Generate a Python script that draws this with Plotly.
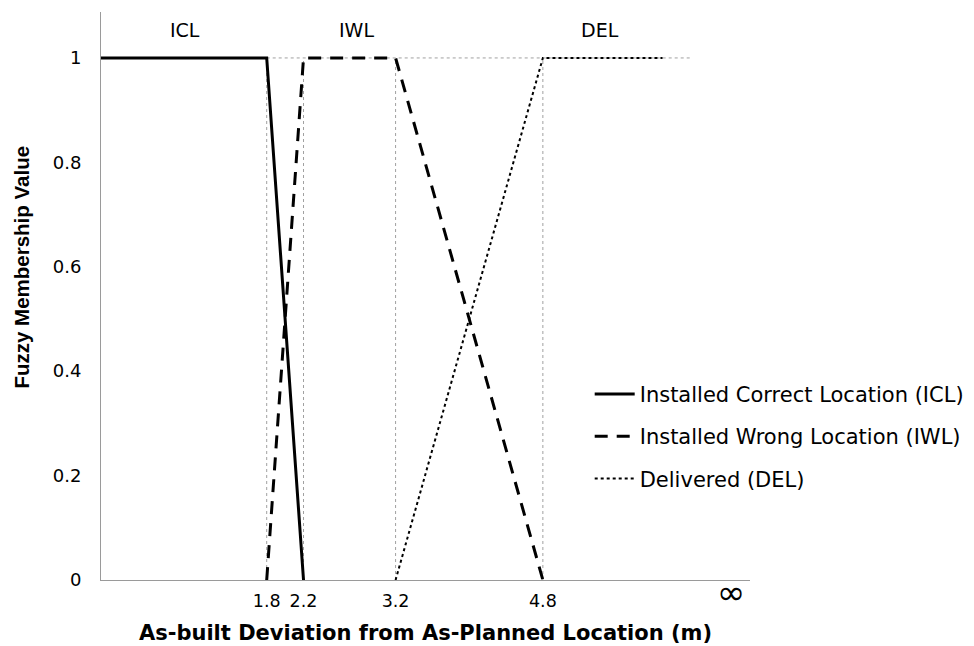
import plotly.graph_objects as go

# membership functions
icl_x = [0, 1.8, 2.2]
icl_y = [1, 1, 0]
iwl_x = [1.8, 2.2, 3.2, 4.8]
iwl_y = [0, 1, 1, 0]
del_x = [3.2, 4.8, 6.1]
del_y = [0, 1, 1]

breakpoints = [1.8, 2.2, 3.2, 4.8]
guide_end = 6.4
y_ticks = [0, 0.2, 0.4, 0.6, 0.8, 1]

region_labels = ["ICL", "IWL", "DEL"]
region_x = [0.91, 2.78, 5.42]

font = "DejaVu Sans, Arial, sans-serif"

fig = go.Figure()

# gray dotted guides
for b in breakpoints:
    fig.add_trace(go.Scatter(x=[b, b], y=[0, 1], mode='lines',
                             line=dict(color='#a0a0a0', width=1, dash='dot'),
                             showlegend=False, hoverinfo='skip'))
fig.add_trace(go.Scatter(x=[breakpoints[0], guide_end], y=[1, 1], mode='lines',
                         line=dict(color='#a0a0a0', width=1, dash='dot'),
                         showlegend=False, hoverinfo='skip'))

fig.add_trace(go.Scatter(x=icl_x, y=icl_y, mode='lines',
                         name='Installed Correct Location (ICL)',
                         legendgroup='a',
                         line=dict(color='black', width=3)))
fig.add_trace(go.Scatter(x=iwl_x, y=iwl_y, mode='lines',
                         name='Installed Wrong Location (IWL)',
                         legendgroup='b',
                         line=dict(color='black', width=3, dash='13px,9px')))
fig.add_trace(go.Scatter(x=del_x, y=del_y, mode='lines',
                         name='Delivered (DEL)',
                         legendgroup='c',
                         line=dict(color='black', width=2, dash='dot')))

for lab, lx in zip(region_labels, region_x):
    fig.add_annotation(x=lx, y=1.054, text=lab, showarrow=False,
                       font=dict(size=19, color='black', family=font))

# infinity mark at the end of the x axis
fig.add_annotation(x=6.84, yref='paper', y=-0.021, yanchor='middle', text="∞",
                   showarrow=False,
                   font=dict(size=34, color='black', family="DejaVu Sans"))

fig.add_annotation(xref='paper', x=-0.122, xanchor='center', y=0.6,
                   text="<b>Fuzzy Membership Value</b>",
                   textangle=-90, showarrow=False,
                   font=dict(size=20.5, color='black', family="Liberation Sans, Arial"))

fig.update_layout(
    width=966, height=638,
    margin=dict(l=93, r=224, t=4, b=66, autoexpand=False),
    plot_bgcolor='white', paper_bgcolor='white',
    font=dict(family=font, size=18, color='black'),
    xaxis=dict(range=[0, 7.05], tickvals=breakpoints, ticktext=[str(b) for b in breakpoints],
               showgrid=False, zeroline=False, showline=True, linecolor='#9a9a9a',
               ticks='', ticklabelstandoff=5, tickfont=dict(size=17.5),
               title=dict(text='<b>As-built Deviation from As-Planned Location (m)</b>',
                          font=dict(size=21), standoff=15)),
    yaxis=dict(range=[0, 1.088], tickvals=y_ticks, ticktext=[str(v) for v in y_ticks],
               showgrid=False, zeroline=False, showline=True, linecolor='#9a9a9a',
               ticks='', ticklabelstandoff=15, tickfont=dict(size=18)),
    legend=dict(x=0.753, y=0.363, xanchor='left', yanchor='top',
                font=dict(size=21), tracegroupgap=12, traceorder='grouped',
                itemwidth=40, bgcolor='rgba(0,0,0,0)'),
    showlegend=True
)

fig.write_html("out.html")
